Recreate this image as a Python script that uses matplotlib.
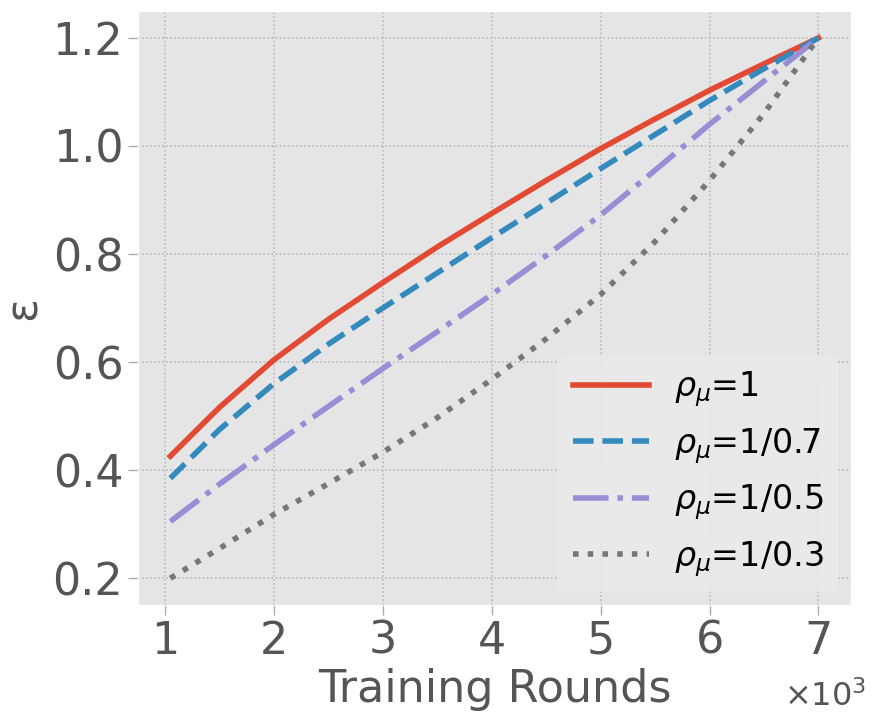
import matplotlib
matplotlib.use("Agg")
import matplotlib.pyplot as plt

plt.style.use("ggplot")

# Training rounds and epsilon curves
rounds = [1050, 1500, 2000, 2500, 3000, 3500, 4000, 4500, 5000, 5500, 6000, 6500, 7000]
eps_1 = [0.426, 0.516, 0.604, 0.679, 0.747, 0.813, 0.875, 0.936, 0.995, 1.050, 1.103, 1.152, 1.200]
eps_07 = [0.385, 0.475, 0.560, 0.633, 0.700, 0.765, 0.830, 0.894, 0.958, 1.021, 1.084, 1.143, 1.200]
eps_05 = [0.305, 0.374, 0.447, 0.518, 0.588, 0.656, 0.725, 0.797, 0.872, 0.955, 1.040, 1.120, 1.200]
eps_03 = [0.200, 0.255, 0.318, 0.375, 0.433, 0.497, 0.568, 0.643, 0.725, 0.823, 0.936, 1.060, 1.200]

labels = [r"$\rho_{\mu}$=1", r"$\rho_{\mu}$=1/0.7", r"$\rho_{\mu}$=1/0.5", r"$\rho_{\mu}$=1/0.3"]
colors = ["#E24A33", "#348ABD", "#988ED5", "#777777"]
styles = ["-", "--", "-.", ":"]

fig = plt.figure(figsize=(8.9, 7.24), dpi=100)
ax = fig.add_axes([0.155, 0.164, 0.801, 0.821])

for y, lab, c, ls in zip([eps_1, eps_07, eps_05, eps_03], labels, colors, styles):
    ax.plot(rounds, y, linestyle=ls, color=c, linewidth=4, label=lab)

ax.set_facecolor("#E5E5E5")
ax.grid(True, linestyle=":", color="#b4b4b4", linewidth=1.1)
ax.set_xticks([1000, 2000, 3000, 4000, 5000, 6000, 7000])
ax.set_xticklabels(["1", "2", "3", "4", "5", "6", "7"])
ax.set_yticks([0.2, 0.4, 0.6, 0.8, 1.0, 1.2])
ax.tick_params(labelsize=32, colors="#555555", length=7, width=1)
ax.tick_params(color="#aaaaaa")

# scale note for the x axis
ax.text(1.021, -0.153, r"$\times10^{3}$", transform=ax.transAxes, ha="right", va="center",
        fontsize=23, color="#555555")

ax.set_xlabel("Training Rounds", fontsize=32, color="#555555", labelpad=4)
ax.set_ylabel("ε", fontsize=32, color="#555555", labelpad=6)

ax.legend(loc="lower right", fontsize=24, facecolor="#EBEBEB", edgecolor="none",
          framealpha=0.8, handlelength=2.3, handletextpad=0.75, borderaxespad=0.4)

fig.savefig("out.png", dpi=100)
